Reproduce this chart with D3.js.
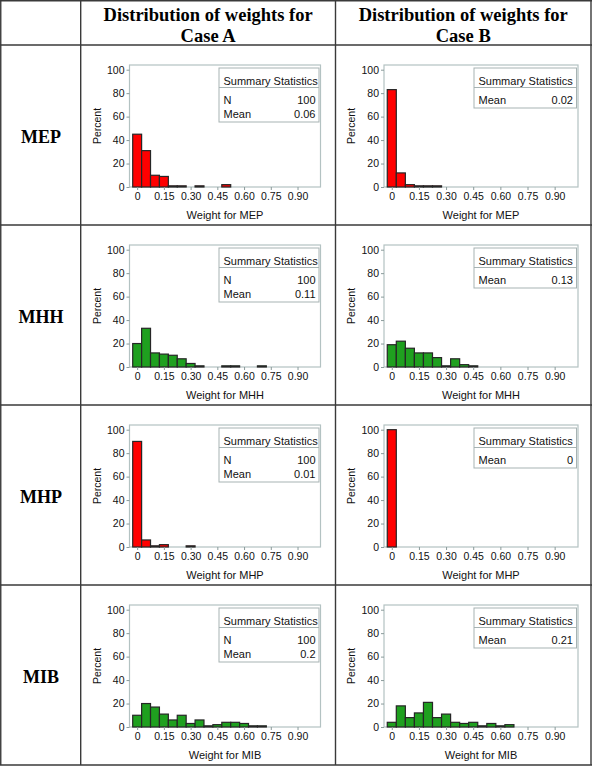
<!DOCTYPE html>
<html lang="en">
<head>
  <meta charset="utf-8">
  <title>Distribution of weights</title>
  <script src="https://d3js.org/d3.v7.min.js"></script>
  <style>
    body { margin: 0; background: #fff; }
    svg { display: block; }
    .head { font-family: "Liberation Serif", "Times New Roman", serif; font-weight: bold; }
    .chart text { font-family: "Liberation Sans", Arial, sans-serif; fill: #111; }
  </style>
</head>
<body>
  <svg id="canvas"></svg>
  <script>
    // categories
    const measures = ["MEP", "MHH", "MHP", "MIB"];
    const cases = ["Case A", "Case B"];
    const xTicks = [0, 0.15, 0.30, 0.45, 0.60, 0.75, 0.90];
    const yTicks = [0, 20, 40, 60, 80, 100];
    const binWidth = 0.05;

    // percent per bin, bins centred at 0, 0.05, 0.10, ...
    const caseA_MEP = [45, 31, 10, 9, 1, 1, 0, 1, 0, 0, 2];
    const caseA_MHH = [20, 33, 12, 11, 10, 7, 3, 1, 0, 0, 1, 1, 0, 0, 1];
    const caseA_MHP = [90, 6, 1, 2, 0, 0, 1];
    const caseA_MIB = [10, 20, 17, 11, 6, 10, 3, 6, 1, 2, 4, 4, 3, 1, 1];
    const caseB_MEP = [83, 12, 2, 1, 1, 1];
    const caseB_MHH = [19, 22, 16, 12, 12, 8, 1, 7, 2, 1];
    const caseB_MHP = [100];
    const caseB_MIB = [4, 18, 8, 12, 21, 8, 11, 4, 3, 4, 1, 3, 1, 2];

    // summary statistics
    const caseA_N = [100, 100, 100, 100];
    const caseA_mean = ["0.06", "0.11", "0.01", "0.2"];
    const caseB_mean = ["0.02", "0.13", "0", "0.21"];

    const histA = [caseA_MEP, caseA_MHH, caseA_MHP, caseA_MIB];
    const histB = [caseB_MEP, caseB_MHH, caseB_MHP, caseB_MIB];

    const W = 592, H = 767;
    const svg = d3.select("#canvas").attr("width", W).attr("height", H);

    // table grid
    const colX = [0.75, 80.7, 335.5, 591];
    const rowY = [0.75, 45, 225, 405, 585, 765];
    const grid = svg.append("g").attr("stroke", "#3a3a3a").attr("stroke-width", 1.4);
    rowY.forEach(y => grid.append("line").attr("x1", 0).attr("x2", W).attr("y1", y).attr("y2", y));
    colX.forEach(x => grid.append("line").attr("x1", x).attr("x2", x).attr("y1", 0).attr("y2", rowY[5]));

    // column headings
    cases.forEach((c, i) => {
      const cx = (colX[i + 1] + colX[i + 2]) / 2;
      const t = svg.append("text").attr("class", "head").attr("font-size", 18.5)
        .attr("text-anchor", "middle");
      t.append("tspan").attr("x", cx).attr("y", 21).text("Distribution of weights for");
      t.append("tspan").attr("x", cx).attr("y", 41.5).text(c);
    });

    // row headings
    measures.forEach((m, r) => {
      svg.append("text").attr("class", "head").attr("font-size", 18)
        .attr("x", 41).attr("y", rowY[r + 1] + 98)
        .attr("text-anchor", "middle").text(m);
    });

    const frames = [[129.5, 320.5], [384, 578]];
    const fillFor = m => (m === "MEP" || m === "MHP") ? "#ff0000" : "#1fa01f";

    function drawHist(col, r) {
      const top = rowY[r + 1];
      const [fl, fr] = frames[col];
      const values = col === 0 ? histA[r] : histB[r];
      const m = measures[r];

      const x = d3.scaleLinear().domain([-0.043, 1.029]).range([fl, fr]);
      const y = d3.scaleLinear().domain([0, 104]).range([top + 142, top + 20]);

      const g = svg.append("g").attr("class", "chart");

      // plot frame
      g.append("rect")
        .attr("x", fl).attr("y", y(104))
        .attr("width", fr - fl).attr("height", y(0) - y(104))
        .attr("fill", "none").attr("stroke", "#b3c2c2").attr("stroke-width", 1.2);

      // bars
      const bins = values.map((v, i) => ({ x0: i * binWidth - binWidth / 2, v }))
        .filter(d => d.v > 0);
      g.append("g").selectAll("rect").data(bins).join("rect")
        .attr("x", d => x(d.x0))
        .attr("y", d => y(d.v))
        .attr("width", d => x(d.x0 + binWidth) - x(d.x0))
        .attr("height", d => y(0) - y(d.v))
        .attr("fill", fillFor(m))
        .attr("stroke", "#262626").attr("stroke-width", 1.2);

      // axes
      const xAxis = g.append("g").attr("transform", `translate(0,${y(0)})`)
        .call(d3.axisBottom(x).tickValues(xTicks)
          .tickFormat(d => d === 0 ? "0" : d3.format(".2f")(d))
          .tickSize(3).tickPadding(3));
      const yAxis = g.append("g").attr("transform", `translate(${fl},0)`)
        .call(d3.axisLeft(y).tickValues(yTicks).tickSize(3).tickPadding(2));
      [xAxis, yAxis].forEach(a => {
        a.select(".domain").remove();
        a.selectAll("line").attr("stroke", "#8a9a9a");
        a.selectAll("text").attr("font-size", 10.5).attr("fill", "#111");
      });

      g.append("text").attr("font-size", 11)
        .attr("x", (fl + fr) / 2).attr("y", top + 174)
        .attr("text-anchor", "middle").text("Weight for " + m);
      g.append("text").attr("font-size", 10.5)
        .attr("transform", `translate(${fl - 29},${(y(0) + y(104)) / 2}) rotate(-90)`)
        .attr("text-anchor", "middle").text("Percent");

      // summary statistics inset
      const rows = col === 0
        ? [["N", String(caseA_N[r])], ["Mean", caseA_mean[r]]]
        : [["Mean", caseB_mean[r]]];
      const ft = y(104);
      const ir = fr - 1.5, il = ir - (col === 0 ? 100 : 102.5);
      const ib = ft + 22.5 + rows.length * 14 + 6.5;
      const inset = g.append("g");
      inset.append("rect").attr("x", il).attr("y", ft + 3)
        .attr("width", ir - il).attr("height", ib - ft - 3)
        .attr("fill", "#fff").attr("stroke", "#a7b3b3").attr("stroke-width", 1);
      inset.append("line").attr("x1", il).attr("x2", ir)
        .attr("y1", ft + 22.5).attr("y2", ft + 22.5)
        .attr("stroke", "#a7b3b3").attr("stroke-width", 1);
      inset.append("text").attr("font-size", 11)
        .attr("x", il + 4.5).attr("y", ft + 19.5).text("Summary Statistics");
      rows.forEach((rw, i) => {
        const by = ft + 39 + i * 14;
        inset.append("text").attr("font-size", 11).attr("x", il + 4.5).attr("y", by).text(rw[0]);
        inset.append("text").attr("font-size", 11).attr("x", ir - 3.5).attr("y", by)
          .attr("text-anchor", "end").text(rw[1]);
      });
    }

    measures.forEach((m, r) => { drawHist(0, r); drawHist(1, r); });
  </script>
</body>
</html>
